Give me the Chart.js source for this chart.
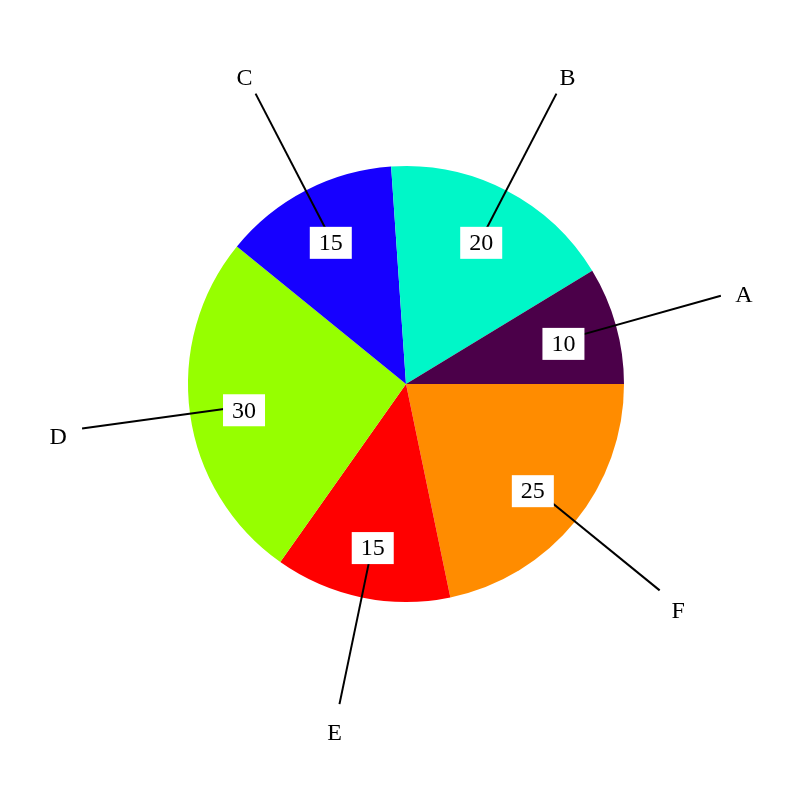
<!DOCTYPE html>
<html>
<head>
<meta charset="utf-8">
<script src="https://cdn.jsdelivr.net/npm/chart.js@4"></script>
<style>
  body { margin: 0; background: #fff; }
  canvas { display: block; }
</style>
</head>
<body>
<canvas id="myChart" width="800" height="800"></canvas>
<script>
// values, counter-clockwise from east
const categories = ['A', 'B', 'C', 'D', 'E', 'F']
const values = [10, 20, 15, 30, 15, 25]
const colors = ['#4b0049', '#00f7c8', '#1600ff', '#96ff00', '#ff0000', '#ff8c00']

// chart.js goes clockwise, so feed it reversed
const labelsCw = categories.slice().reverse()
const valuesCw = values.slice().reverse()
const colorsCw = colors.slice().reverse()

const fontFace = '"Liberation Serif", "DejaVu Serif", serif'

const calloutPlugin = {
    id: 'callouts',
    afterDatasetsDraw(chart) {
        const ctx = chart.ctx
        const meta = chart.getDatasetMeta(0)
        ctx.save()
        meta.data.forEach((arc, i) => {
            const mid = (arc.startAngle + arc.endAngle) / 2
            const r = arc.outerRadius
            const cos = Math.cos(mid), sin = Math.sin(mid)
            const bx = arc.x + r * 0.75 * cos
            const by = arc.y + r * 0.75 * sin

            // leader line
            ctx.strokeStyle = '#000'
            ctx.lineWidth = 2
            ctx.beginPath()
            ctx.moveTo(bx, by)
            ctx.lineTo(arc.x + r * 1.5 * cos, arc.y + r * 1.5 * sin)
            ctx.stroke()

            // value box (sits a bit below the ray)
            ctx.font = '24px ' + fontFace
            ctx.textAlign = 'center'
            ctx.textBaseline = 'middle'
            const txt = String(valuesCw[i])
            const w = ctx.measureText(txt).width + 18
            const h = 32
            const boxY = by + 4
            ctx.fillStyle = '#fff'
            ctx.fillRect(bx - w / 2, boxY - h / 2, w, h)
            ctx.fillStyle = '#000'
            ctx.fillText(txt, bx, boxY + 1)

            // category label
            ctx.fillText(labelsCw[i], arc.x + r * 1.61 * cos, arc.y + r * 1.61 * sin + 6)
        })
        ctx.restore()
    }
}

const config = {
    type: 'pie',
    data: {
        labels: labelsCw,
        datasets: [{
            data: valuesCw,
            backgroundColor: colorsCw,
            borderWidth: 0
        }]
    },
    options: {
        responsive: false,
        animation: false,
        rotation: 90,
        layout: {
            padding: { left: 188, right: 176, top: 166, bottom: 198 }
        },
        plugins: {
            legend: { display: false },
            tooltip: { enabled: false }
        }
    },
    plugins: [calloutPlugin]
}

const myChart = new Chart(document.getElementById('myChart'), config)
</script>
</body>
</html>
